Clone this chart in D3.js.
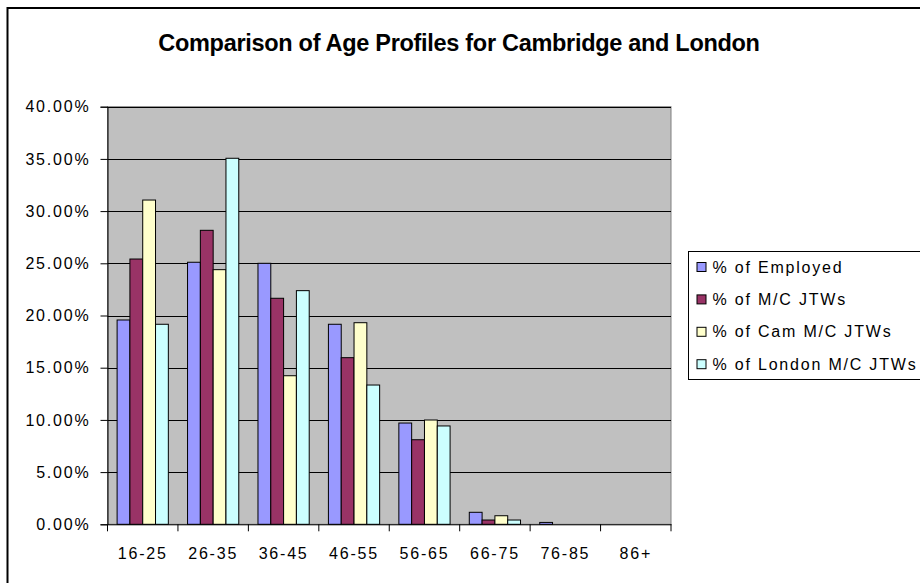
<!DOCTYPE html>
<html>
<head>
<meta charset="utf-8">
<script src="https://cdn.jsdelivr.net/npm/d3@7"></script>
<style>
  html, body { margin: 0; padding: 0; background: #fff; }
  svg { display: block; }
  text { font-family: "Liberation Sans", Arial, sans-serif; fill: #000; }
  .lbl { font-size: 16px; letter-spacing: 1.8px; }
  .title { font-size: 23.5px; font-weight: bold; letter-spacing: -0.3px; }
</style>
</head>
<body>
<svg id="chart" width="920" height="583"></svg>
<script>
// Age bands on the x axis
const categories = ["16-25", "26-35", "36-45", "46-55", "56-65", "66-75", "76-85", "86+"];

// Series names, as shown in the legend
const seriesNames = ["% of Employed", "% of M/C JTWs", "% of Cam M/C JTWs", "% of London M/C JTWs"];

// Share of each age band, per series (fractions)
const employed   = [0.1957, 0.2510, 0.2500, 0.1916, 0.0970, 0.0115, 0.0018, 0];
const mcJtws     = [0.2541, 0.2816, 0.2165, 0.1596, 0.0810, 0.0041, 0, 0];
const camMcJtws  = [0.3106, 0.2439, 0.1423, 0.1931, 0.0999, 0.0082, 0, 0];
const londonJtws = [0.1916, 0.3506, 0.2238, 0.1334, 0.0942, 0.0041, 0, 0];

// Y axis tick values
const yTicks = [0, 0.05, 0.10, 0.15, 0.20, 0.25, 0.30, 0.35, 0.40];

const seriesValues = [employed, mcJtws, camMcJtws, londonJtws];
const seriesColors = ["#9999FF", "#993366", "#FFFFCC", "#CCFFFF"];

const svg = d3.select("#chart");

// Outer chart frame (runs off the right and bottom edges)
svg.append("rect")
  .attr("x", 7.5).attr("y", 8).attr("width", 940).attr("height", 600)
  .attr("fill", "#fff").attr("stroke", "#000").attr("stroke-width", 2);

svg.append("text").attr("class", "title")
  .attr("x", 459).attr("y", 51).attr("text-anchor", "middle")
  .text("Comparison of Age Profiles for Cambridge and London");

const plot = { left: 107.5, right: 671, top: 106.7, bottom: 524.3 };

const x = d3.scaleBand().domain(categories).range([plot.left, plot.right]).padding(0);
const bw = x.bandwidth() / 5.5; // bar width: four bars plus a 150% gap
const xs = d3.scaleBand().domain(d3.range(seriesNames.length))
  .range([0.75 * bw, 4.75 * bw]).padding(0);
const y = d3.scaleLinear().domain([0, 0.4]).range([plot.bottom, plot.top]);

// Plot background
svg.append("rect")
  .attr("x", plot.left).attr("y", plot.top)
  .attr("width", plot.right - plot.left).attr("height", plot.bottom - plot.top)
  .attr("fill", "#C0C0C0").attr("stroke", "#808080").attr("stroke-width", 1);

// Horizontal gridlines
svg.append("g").selectAll("line").data(yTicks.filter(d => d > 0)).join("line")
  .attr("x1", plot.left).attr("x2", plot.right)
  .attr("y1", d => Math.round(y(d)) + 0.5).attr("y2", d => Math.round(y(d)) + 0.5)
  .attr("stroke", "#000").attr("stroke-width", 1);

// Bars
const groups = svg.append("g").selectAll("g").data(categories).join("g")
  .attr("transform", c => `translate(${x(c)},0)`);
groups.selectAll("rect")
  .data((c, i) => seriesValues.map((vals, s) => ({ s, v: vals[i] })))
  .join("rect")
  .attr("x", d => xs(d.s))
  .attr("y", d => y(d.v))
  .attr("width", xs.bandwidth())
  .attr("height", d => y(0) - y(d.v))
  .attr("fill", d => seriesColors[d.s])
  .attr("stroke", "#000")
  .attr("stroke-width", 1)
  .attr("visibility", d => d.v > 0 ? "visible" : "hidden");

// Y axis
const yAxis = svg.append("g")
  .attr("transform", `translate(${plot.left},0)`)
  .call(d3.axisLeft(y).tickValues(yTicks).tickFormat(d3.format(".2%")).tickSize(7).tickPadding(10));
yAxis.select(".domain").attr("stroke", "#000");
yAxis.selectAll(".tick line").attr("stroke", "#000");
yAxis.selectAll("text").attr("class", "lbl").attr("font-size", null).attr("font-family", null);

// X axis: labels centred in each band, tick marks between bands
const xAxis = svg.append("g")
  .attr("transform", `translate(0,${plot.bottom})`)
  .call(d3.axisBottom(x).tickSize(0).tickPadding(23).tickSizeOuter(0));
xAxis.select(".domain").attr("stroke", "#000");
xAxis.selectAll("text").attr("class", "lbl").attr("font-size", null).attr("font-family", null);
xAxis.selectAll("line.sep")
  .data(categories.map(c => x(c)).concat([plot.right]))
  .join("line").attr("class", "sep")
  .attr("x1", d => d).attr("x2", d => d).attr("y1", 0).attr("y2", 7)
  .attr("stroke", "#000");

// Legend
const lg = { x: 688.5, y: 251.5, w: 240, h: 128 };
svg.append("rect")
  .attr("x", lg.x).attr("y", lg.y).attr("width", lg.w).attr("height", lg.h)
  .attr("fill", "#fff").attr("stroke", "#000").attr("stroke-width", 1);
const items = svg.append("g").selectAll("g").data(seriesNames).join("g")
  .attr("transform", (d, i) => `translate(${lg.x + 8},${267 + i * 32.4})`);
items.append("rect")
  .attr("x", 0.5).attr("y", -4.5).attr("width", 9).attr("height", 9)
  .attr("fill", (d, i) => seriesColors[i]).attr("stroke", "#000");
items.append("text").attr("class", "lbl")
  .attr("x", 16).attr("dy", "0.35em")
  .text(d => d);
</script>
</body>
</html>
